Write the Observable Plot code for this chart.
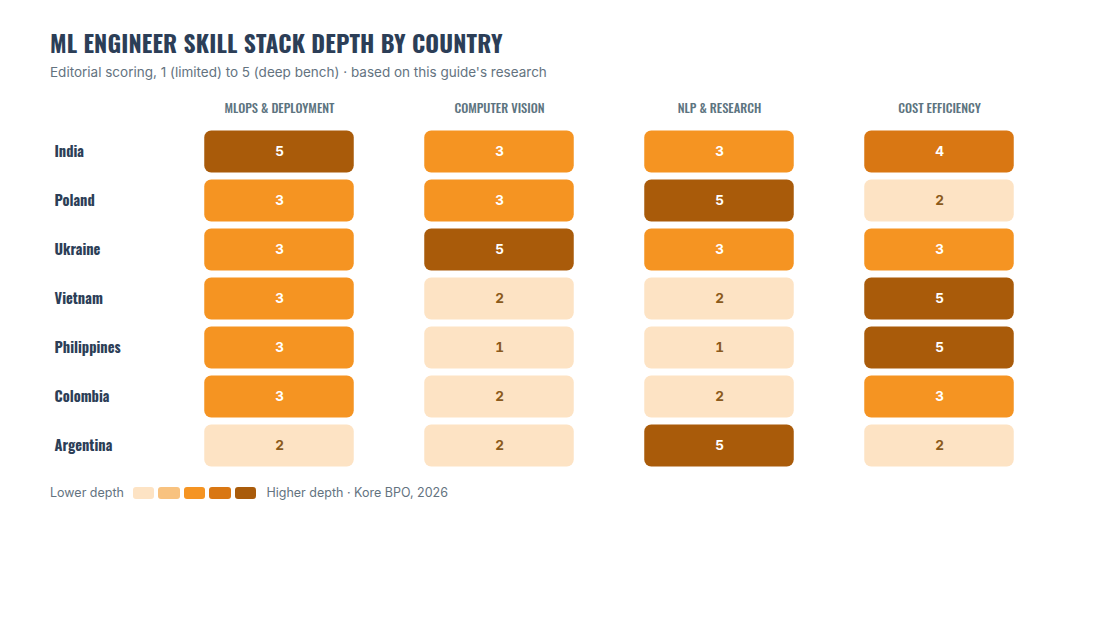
<!DOCTYPE html>
<html><head><meta charset="utf-8">
<script src="https://cdn.jsdelivr.net/npm/d3@7"></script>
<script src="https://cdn.jsdelivr.net/npm/@observablehq/plot@0.6"></script>
<style>
body{margin:0;background:#fff;width:1100px;height:620px;position:relative;overflow:hidden;font-family:Inter,"Noto Sans",sans-serif;}
#title{position:absolute;left:50px;top:25px;font-family:Oswald,"Liberation Sans Narrow","DejaVu Sans Condensed",sans-serif;font-weight:700;font-size:23.5px;color:#2c3e57;letter-spacing:0.15px;}
#sub{position:absolute;left:50px;top:64px;font-size:13.5px;color:#64737f;}
#chart{position:absolute;left:0;top:90px;}
#legend{position:absolute;left:50px;top:485px;font-size:12.5px;color:#64737f;display:flex;align-items:center;}
#legend .sw{display:inline-block;width:21.5px;height:12px;border-radius:3px;margin-right:4px;}
</style></head><body>
<div id="title">ML ENGINEER SKILL STACK DEPTH BY COUNTRY</div>
<div id="sub">Editorial scoring, 1 (limited) to 5 (deep bench) · based on this guide's research</div>
<div id="chart"></div>
<div id="legend"></div>
<script>
const countries = ["India","Poland","Ukraine","Vietnam","Philippines","Colombia","Argentina"];
const skills = ["MLOps & Deployment","Computer Vision","NLP & Research","Cost Efficiency"];
const mlops = [5,3,3,3,3,3,2];
const vision = [3,3,5,2,1,2,2];
const nlp = [3,5,3,2,1,2,5];
const cost = [4,2,3,5,5,3,2];
const scores = [1,2,3,4,5];
const cellColors = ["#fde3c4","#fde3c4","#f59422","#d97713","#a95b0a"];
const legendColors = ["#fde3c4","#f8c27f","#f59422","#d97713","#a95b0a"];

const series = [mlops, vision, nlp, cost];
const data = [];
countries.forEach((c, i) => skills.forEach((s, j) => data.push({country: c, skill: s, score: series[j][i]})));

const W = 1100, H = 390;
const plot = Plot.plot({
  width: W, height: H,
  marginLeft: 167.25, marginRight: W - 1049.75,
  marginTop: 36.5, marginBottom: 10.5,
  x: {domain: skills, padding: 0, axis: null},
  y: {domain: countries, padding: 0, axis: null},
  color: {type: "ordinal", domain: scores, range: cellColors},
  style: {fontFamily: "Inter, 'Noto Sans', sans-serif"},
  marks: [
    Plot.axisX({anchor: "top", label: null, tickSize: 0, tickFormat: d => d.toUpperCase(), fontSize: 12.5, fontWeight: 500, fill: "#5d7480", dy: -5,
      fontFamily: "Oswald, 'Liberation Sans Narrow', 'DejaVu Sans Condensed', sans-serif"}),
    Plot.axisY({label: null, tickSize: 0, textAnchor: "start", dx: -104.25, fontSize: 14.5, fontWeight: 700, fill: "#2c3e57",
      fontFamily: "Oswald, 'Liberation Sans Narrow', 'DejaVu Sans Condensed', sans-serif"}),
    Plot.cell(data, {x: "skill", y: "country", fill: "score", rx: 7, insetLeft: 35.25, insetRight: 35.25, insetTop: 3.5, insetBottom: 3.5}),
    Plot.text(data, {x: "skill", y: "country", text: "score", fontSize: 13.5, fontWeight: 700,
      fill: d => d.score >= 3 ? "#ffffff" : "#8a5a1c"})
  ]
});
document.getElementById("chart").appendChild(plot);

const lg = document.getElementById("legend");
const l1 = document.createElement("span"); l1.textContent = "Lower depth"; l1.style.marginRight = "9px"; lg.appendChild(l1);
legendColors.forEach(c => { const s = document.createElement("span"); s.className = "sw"; s.style.background = c; lg.appendChild(s); });
const l2 = document.createElement("span"); l2.textContent = "Higher depth · Kore BPO, 2026"; l2.style.marginLeft = "6px"; lg.appendChild(l2);
</script>
</body></html>
